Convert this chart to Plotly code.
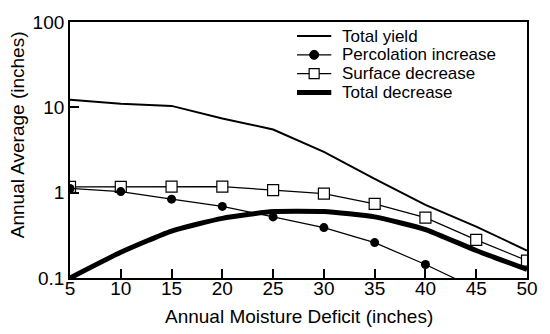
import plotly.graph_objects as go

# Annual moisture deficit (inches) on the x axis
deficit = [5, 10, 15, 20, 25, 30, 35, 40, 45, 50]

# Annual averages (inches)
total_yield = [12.3, 11.0, 10.4, 7.4, 5.5, 3.0, 1.45, 0.72, 0.40, 0.21]
surface_decrease = [1.17, 1.17, 1.18, 1.18, 1.07, 0.975, 0.74, 0.51, 0.28, 0.16]
percolation_increase = [1.12, 1.03, 0.84, 0.69, 0.52, 0.39, 0.26, 0.144, 0.075]
total_decrease = [0.10, 0.20, 0.355, 0.50, 0.60, 0.60, 0.52, 0.37, 0.21, 0.126]

x_tick_vals = [5, 10, 15, 20, 25, 30, 35, 40, 45, 50]
y_tick_vals = [0.1, 1, 10, 100]
y_tick_text = ["0.1", "1", "10", "100"]

series_names = ["Total yield", "Percolation increase", "Surface decrease", "Total decrease"]

W, H = 550, 334
ML, MR, MT, MB = 70, 13, 13, 56
FONT = "Liberation Sans, Arial, Helvetica, sans-serif"
FS = 19
KEY_FS = 17


def px_x(p):
    return (p - ML) / (W - ML - MR)


def px_y(p):
    return (H - MB - p) / (H - MT - MB)


fig = go.Figure()

fig.add_trace(go.Scatter(
    x=deficit, y=total_yield, mode="lines", name=series_names[0],
    line=dict(color="black", width=2), showlegend=False))

fig.add_trace(go.Scatter(
    x=deficit, y=surface_decrease, mode="lines+markers", name=series_names[2],
    line=dict(color="black", width=1.2),
    marker=dict(symbol="square", size=11, color="white",
                line=dict(color="black", width=1.2)),
    showlegend=False))

fig.add_trace(go.Scatter(
    x=deficit[:len(percolation_increase)], y=percolation_increase,
    mode="lines+markers", name=series_names[1],
    line=dict(color="black", width=1.2),
    marker=dict(symbol="circle", size=9, color="black"),
    showlegend=False))

fig.add_trace(go.Scatter(
    x=deficit, y=total_decrease, mode="lines", name=series_names[3],
    line=dict(color="black", width=5, shape="spline", smoothing=0.5),
    showlegend=False))

# Hand-built key in the upper right of the plot area
key_rows = [27.5, 47, 66.5, 86]
key_x0, key_x1, key_text_x = 302, 337, 346
key_mid = (key_x0 + key_x1) / 2
shapes = []
annotations = []
line_widths = [2, 1.2, 1.2, 5]
for i, (name, row) in enumerate(zip(series_names, key_rows)):
    shapes.append(dict(type="line", xref="paper", yref="paper",
                       x0=px_x(key_x0), x1=px_x(key_x1),
                       y0=px_y(row), y1=px_y(row),
                       line=dict(color="black", width=line_widths[i])))
    annotations.append(dict(text=name, xref="paper", yref="paper",
                            x=px_x(key_text_x), y=px_y(row),
                            xanchor="left", yanchor="middle", showarrow=False,
                            font=dict(family=FONT, size=KEY_FS, color="black")))
shapes.append(dict(type="circle", xref="paper", yref="paper",
                   xsizemode="pixel", ysizemode="pixel",
                   xanchor=px_x(key_mid), yanchor=px_y(key_rows[1]),
                   x0=-4.5, x1=4.5, y0=-4.5, y1=4.5,
                   fillcolor="black", line=dict(color="black", width=1)))
shapes.append(dict(type="rect", xref="paper", yref="paper",
                   xsizemode="pixel", ysizemode="pixel",
                   xanchor=px_x(key_mid), yanchor=px_y(key_rows[2]),
                   x0=-5, x1=5, y0=-5, y1=5,
                   fillcolor="white", line=dict(color="black", width=1.2)))

# Axis titles
annotations.append(dict(text="Annual Moisture Deficit (inches)", xref="paper", yref="paper",
                        x=px_x(304), y=px_y(318), xanchor="center", yanchor="middle",
                        showarrow=False, font=dict(family=FONT, size=FS, color="black")))
annotations.append(dict(text="Annual Average (inches)", xref="paper", yref="paper",
                        x=px_x(16), y=px_y(130), xanchor="center", yanchor="middle",
                        textangle=-90, showarrow=False,
                        font=dict(family=FONT, size=FS, color="black")))

fig.update_layout(
    width=W, height=H,
    margin=dict(l=ML, r=MR, t=MT, b=MB, pad=0),
    paper_bgcolor="white", plot_bgcolor="white",
    font=dict(family=FONT, size=FS, color="black"),
    showlegend=False,
    shapes=shapes, annotations=annotations,
    xaxis=dict(range=[5, 50], tickvals=x_tick_vals, ticks="inside", ticklen=9,
               tickwidth=1.5, tickcolor="black", showgrid=False, zeroline=False,
               showline=True, linecolor="black", linewidth=1.8, mirror=True,
               ticklabelstandoff=-8,
               tickfont=dict(family=FONT, size=FS, color="black")),
    yaxis=dict(type="log", range=[-1, 2], tickvals=y_tick_vals, ticktext=y_tick_text,
               ticks="inside", ticklen=9, tickwidth=1.5, tickcolor="black",
               showgrid=False, zeroline=False, showline=True, linecolor="black",
               linewidth=1.8, mirror=True,
               tickfont=dict(family=FONT, size=FS, color="black")),
)

fig.write_html("out.html")
